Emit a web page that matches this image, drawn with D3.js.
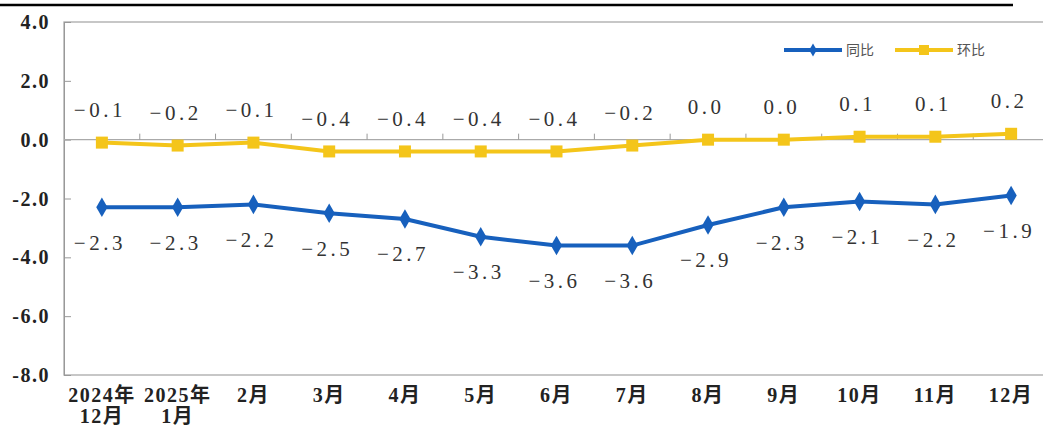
<!DOCTYPE html>
<html>
<head>
<meta charset="utf-8">
<script src="https://cdn.jsdelivr.net/npm/d3@7"></script>
<style>
  body { margin: 0; background: #fff; }
  svg { display: block; }
</style>
</head>
<body>
<div id="chart"></div>
<script>
// months, two lines per label where needed
var months = [["2024年", "12月"], ["2025年", "1月"], ["2月"], ["3月"], ["4月"], ["5月"], ["6月"], ["7月"], ["8月"], ["9月"], ["10月"], ["11月"], ["12月"]];
var yoy = [-2.3, -2.3, -2.2, -2.5, -2.7, -3.3, -3.6, -3.6, -2.9, -2.3, -2.1, -2.2, -1.9];
var mom = [-0.1, -0.2, -0.1, -0.4, -0.4, -0.4, -0.4, -0.2, 0.0, 0.0, 0.1, 0.1, 0.2];
var yTicks = [4, 2, 0, -2, -4, -6, -8];
var seriesNames = ["同比", "环比"];

var W = 1043, H = 428;
var margin = {top: 22, right: -6, bottom: 53, left: 64};
var width = W - margin.left - margin.right,
    height = H - margin.top - margin.bottom;

var blue = "#1760bd", yellow = "#f4c51a";
var serif = "'Liberation Serif','Times New Roman','Noto Sans CJK SC',serif";

var svg = d3.select("#chart").append("svg")
  .attr("width", W).attr("height", H);

// black rule at the very top
svg.append("line")
  .attr("x1", 0).attr("x2", 1013).attr("y1", 5).attr("y2", 5)
  .attr("stroke", "#000").attr("stroke-width", 2.5);

var g = svg.append("g")
  .attr("transform", "translate(" + margin.left + "," + margin.top + ")");

var x = d3.scaleBand().domain(d3.range(months.length)).range([0, width]);
var y = d3.scaleLinear().domain([-8, 4]).range([height, 0]);
var cx = function(i) { return x(i) + x.bandwidth() / 2; };

// frame
g.append("rect")
  .attr("x", 0).attr("y", 0).attr("width", width).attr("height", height)
  .attr("fill", "none").attr("stroke", "#aaa").attr("stroke-width", 1.3);

// y axis, ticks pointing inward
var yAxis = g.append("g")
  .call(d3.axisRight(y).tickValues(yTicks).tickSize(7).tickFormat(""));
yAxis.select(".domain").attr("stroke", "#999");
yAxis.selectAll(".tick line").attr("stroke", "#999");

yTicks.forEach(function(t) {
  g.append("text")
    .attr("x", -14).attr("y", y(t)).attr("dy", "0.35em")
    .attr("text-anchor", "end")
    .attr("font-family", serif).attr("font-weight", "bold")
    .attr("font-size", 20).attr("letter-spacing", "1.5px").attr("fill", "#222")
    .text(d3.format(".1f")(t).replace("−", "-"));
});

// category axis along zero
var x0 = g.append("g").attr("transform", "translate(0," + y(0) + ")");
x0.append("line").attr("x1", 0).attr("x2", width)
  .attr("stroke", "#aaa").attr("stroke-width", 1.3);
d3.range(1, months.length).forEach(function(i) {
  x0.append("line")
    .attr("x1", x(i)).attr("x2", x(i)).attr("y1", 0).attr("y2", -6)
    .attr("stroke", "#999");
});

// month labels under the frame
months.forEach(function(m, i) {
  var t = g.append("text")
    .attr("x", cx(i)).attr("y", height + 27)
    .attr("text-anchor", "middle")
    .attr("font-family", serif).attr("font-weight", "bold")
    .attr("font-size", 20).attr("letter-spacing", "1.5px").attr("fill", "#222");
  m.forEach(function(s, k) {
    t.append("tspan").attr("x", cx(i)).attr("dy", k === 0 ? 0 : 21).text(s);
  });
});

var line = d3.line().x(function(d, i) { return cx(i); }).y(function(d) { return y(d); });

// mom (yellow)
g.append("path").datum(mom).attr("d", line)
  .attr("fill", "none").attr("stroke", yellow).attr("stroke-width", 4);
g.selectAll(".sq").data(mom).enter().append("rect")
  .attr("x", function(d, i) { return cx(i) - 6; })
  .attr("y", function(d) { return y(d) - 6; })
  .attr("width", 12).attr("height", 12).attr("fill", yellow);

// yoy (blue)
g.append("path").datum(yoy).attr("d", line)
  .attr("fill", "none").attr("stroke", blue).attr("stroke-width", 4);
var diamond = d3.symbol().type(d3.symbolDiamond).size(110);
g.selectAll(".dm").data(yoy).enter().append("path")
  .attr("d", diamond)
  .attr("transform", function(d, i) { return "translate(" + cx(i) + "," + y(d) + ")"; })
  .attr("fill", blue);

// value labels
var fmt = function(v) { return (v < 0 ? "−" : "") + Math.abs(v).toFixed(1); };
function labels(data, dy) {
  g.selectAll(null).data(data).enter().append("text")
    .attr("x", function(d, i) { return cx(i) - 2; })
    .attr("y", function(d) { return y(d) + dy; })
    .attr("dy", "0.35em")
    .attr("text-anchor", "middle")
    .attr("font-family", serif).attr("font-size", 21)
    .attr("letter-spacing", "3.5px")
    .attr("fill", "#333")
    .text(fmt);
}
labels(mom, -33);
labels(yoy, 35);

// legend
var leg = svg.append("g").attr("transform", "translate(784,50)");
[blue, yellow].forEach(function(c, i) {
  var lg = leg.append("g").attr("transform", "translate(" + (i * 111) + ",0)");
  lg.append("line").attr("x1", 0).attr("x2", 58).attr("stroke", c).attr("stroke-width", 4);
  if (i === 0) {
    lg.append("path").attr("d", d3.symbol().type(d3.symbolDiamond).size(50))
      .attr("transform", "translate(29,0)").attr("fill", c);
  } else {
    lg.append("rect").attr("x", 24).attr("y", -5).attr("width", 10).attr("height", 10).attr("fill", c);
  }
  lg.append("text").attr("x", 62).attr("dy", "0.35em")
    .attr("font-family", "'Noto Sans CJK SC',sans-serif").attr("font-size", 14)
    .attr("fill", "#555").text(seriesNames[i]);
});
</script>
</body>
</html>
